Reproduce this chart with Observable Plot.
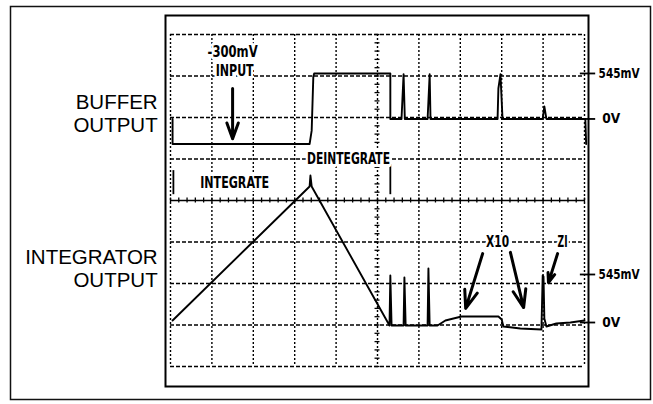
<!DOCTYPE html>
<html><head><meta charset="utf-8">
<script src="https://cdn.jsdelivr.net/npm/d3@7"></script>
<script src="https://cdn.jsdelivr.net/npm/@observablehq/plot@0.6"></script>
<style>html,body{margin:0;padding:0;background:#fff;}</style>
</head><body><div id="chart"></div>
<script>
// ---- data: time in screen divisions, voltage in mV ----
const bufferT  = [0.05, 0.05, 3.36, 3.41, 3.45, 3.47, 5.31, 5.31, 5.58, 5.63, 5.66, 6.21, 6.26, 6.28, 7.90, 7.92, 7.97, 8.02, 8.99, 9.03, 9.08, 10.02, 10.04];
const bufferMv = [0, -300, -300, -140, 510, 545, 545, 0, 0, 535, 0, 0, 535, 0, 0, 365, 535, 0, 0, 150, 0, 0, -300];

const integT  = [0.05, 3.36, 3.38, 3.41, 5.29, 5.31, 5.34, 5.63, 5.65, 5.68, 6.21, 6.23, 6.26, 6.45, 6.64, 7.03, 7.49, 7.92, 8.00, 8.04, 8.45, 8.96, 8.99, 9.01, 9.03, 9.08, 9.32, 9.66, 10.0];
const integMv = [23, 1544, 1668, 1544, -34, 533, -34, -34, 511, -34, -34, 613, -34, -34, 23, 68, 68, 68, 34, -45, -68, -79, 533, 522, 45, -45, -11, 0, 23];

// channel placement on the screen (zero level and divisions per 545 mV)
const bufferZero = 5.965, bufferDivPer545 = 1.096;
const integZero = 1.06, integDivPer545 = 1.157;

// level labels on the right
const levelLabels = ["545mV", "0V", "545mV", "0V"];
const levelMv = [545, 0, 545, 0];
const levelChannel = ["buffer", "buffer", "integ", "integ"];
const levelTextT = [10.34, 10.43, 10.34, 10.43];

// channel names on the left
const leftLabels = ["BUFFER", "OUTPUT", "INTEGRATOR", "OUTPUT"];
const leftY = [6.36, 5.81, 2.63, 2.07];

// annotations
const annoText = ["-300mV", "INPUT", "INTEGRATE", "DEINTEGRATE", "X10", "ZI"];
const annoT = [1.50, 1.55, 1.55, 4.30, 7.90, 9.47];
const annoY = [7.57, 7.13, 4.43, 5.0, 3.0, 3.0];

const arrowT1 = [1.50, 7.54, 8.21, 9.35];
const arrowY1 = [6.70, 2.72, 2.75, 2.72];
const arrowT2 = [1.50, 7.13, 8.53, 9.13];
const arrowY2 = [5.49, 1.40, 1.42, 2.02];

// phase markers
const markerT = [0.07, 5.31];
const markerY1 = [4.14, 4.14];
const markerY2 = [4.72, 4.87];

// condensed lettering: rendered width (px) for each bold label
const condensedText = ["-300mV", "INPUT", "INTEGRATE", "DEINTEGRATE", "X10", "ZI", "545mV", "0V"];
const condensedWidth = [50, 38, 69, 83, 23, 10, 41, 18];

// ---- build ----
const toY = (ch, mv) => ch === "buffer" ? bufferZero + mv / 545 * bufferDivPer545 : integZero + mv / 545 * integDivPer545;
const bufferData = bufferT.map((t, i) => ({t, y: toY("buffer", bufferMv[i])}));
const integData = integT.map((t, i) => ({t, y: toY("integ", integMv[i])}));
const levels = levelLabels.map((label, i) => ({label, t: levelTextT[i], y: toY(levelChannel[i], levelMv[i])}));
const lefts = leftLabels.map((label, i) => ({label, y: leftY[i]}));
const annos = annoText.map((label, i) => ({label, t: annoT[i], y: annoY[i]}));
const arrows = arrowT1.map((t, i) => ({t1: t, y1: arrowY1[i], t2: arrowT2[i], y2: arrowY2[i]}));
const markers = markerT.map((t, i) => ({t, y1: markerY1[i], y2: markerY2[i]}));

const gridX = d3.range(0, 11);
const gridY = d3.range(0, 9);
const minorX = d3.range(0, 50.5).map(d => d / 5);
const minorY = d3.range(0, 40.5).map(d => d / 5);

const narrow = "'Liberation Sans Narrow', 'DejaVu Sans Condensed', 'Roboto', sans-serif";

const chart = Plot.plot({
  width: 653, height: 404,
  marginLeft: 170, marginRight: 69, marginTop: 34, marginBottom: 38,
  x: {domain: [0, 10], axis: null},
  y: {domain: [0, 8], axis: null},
  style: {fontFamily: narrow, background: "#fff", color: "#000"},
  marks: [
    Plot.frame({insetLeft: -160, insetRight: -66, insetTop: -28, insetBottom: -33, stroke: "#111", strokeWidth: 1.5}),
    Plot.frame({insetLeft: -5, insetRight: -4, insetTop: -19, insetBottom: -20, stroke: "#000", strokeWidth: 2}),
    Plot.ruleY(gridY.filter(d => d !== 4), {stroke: "#000", strokeWidth: 1.4, strokeDasharray: "4,2"}),
    Plot.ruleX(gridX, {stroke: "#000", strokeWidth: 1.4, strokeDasharray: "2,2"}),
    Plot.ruleY([4], {stroke: "#000", strokeWidth: 1.4}),
    Plot.ruleX(minorX, {x: d => d, y1: 3.94, y2: 4.06, stroke: "#000", strokeWidth: 1.3}),
    Plot.ruleY(minorY, {y: d => d, x1: 4.94, x2: 5.06, stroke: "#000", strokeWidth: 1.3}),
    Plot.line(bufferData, {x: "t", y: "y", stroke: "#000", strokeWidth: 1.9, curve: "linear"}),
    Plot.line(integData, {x: "t", y: "y", stroke: "#000", strokeWidth: 1.9, curve: "linear"}),
    Plot.ruleX(markers, {x: "t", y1: "y1", y2: "y2", stroke: "#000", strokeWidth: 1.8}),
    Plot.ruleY(levels, {y: "y", x1: 9.9, x2: 10.27, stroke: "#000", strokeWidth: 1.8}),
    Plot.text(levels, {x: "t", y: "y", text: "label", textAnchor: "start", fontSize: 14, fontWeight: "bold", fill: "#000"}),
    Plot.text(lefts, {x: -0.31, y: "y", text: "label", textAnchor: "end", fontSize: 20.5, fontFamily: "'Liberation Sans', Arial, sans-serif", fill: "#000"}),
    Plot.text(annos, {x: "t", y: "y", text: "label", fontSize: 16, fontWeight: "bold", fill: "#000", stroke: "#fff", strokeWidth: 6, paintOrder: "stroke"}),
    Plot.arrow(arrows, {x1: "t1", y1: "y1", x2: "t2", y2: "y2", stroke: "#000", strokeWidth: 3, headLength: 14, headAngle: 40})
  ]
});
document.getElementById("chart").appendChild(chart);

// apply condensed lettering widths
const widthOf = new Map(condensedText.map((t, i) => [t, condensedWidth[i]]));
d3.select(chart).selectAll("text").each(function() {
  const w = widthOf.get(this.textContent);
  if (w != null) {
    this.setAttribute("textLength", w);
    this.setAttribute("lengthAdjust", "spacingAndGlyphs");
  }
});
</script>
</body></html>
